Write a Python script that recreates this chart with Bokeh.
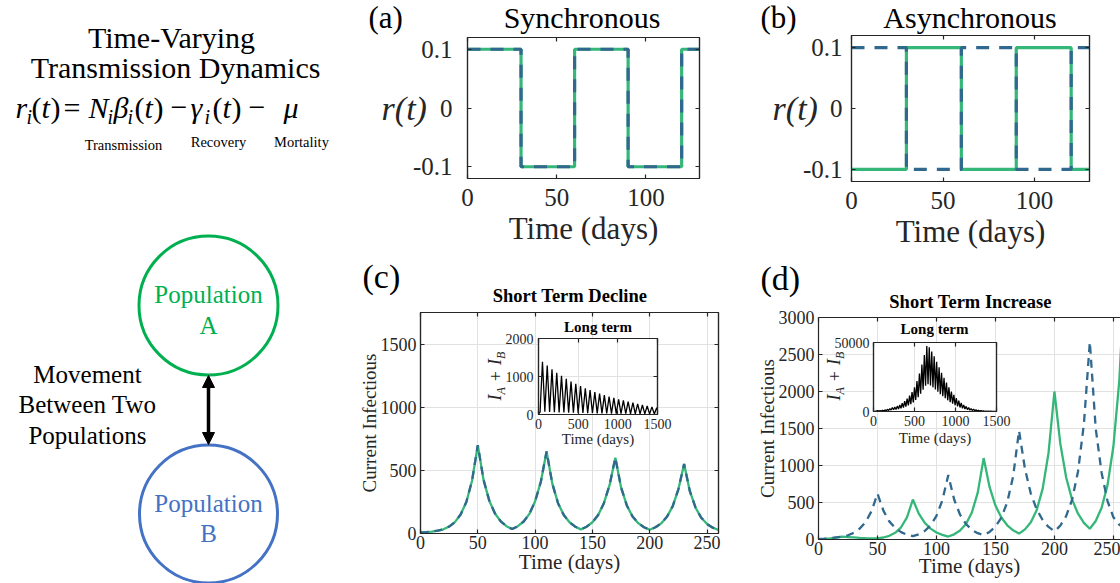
import math
from bokeh.plotting import figure
from bokeh.models import (Range1d, FixedTicker, LinearAxis, GridBox, Arrow,
                          NormalHead, CustomJSTickFormatter, ColumnDataSource)
from bokeh.embed import file_html
from bokeh.resources import INLINE
from bokeh.core.properties import value

# ---------------- data ----------------
# (a), (b): switching reproduction rate r(t)
r_days = [0, 30, 60, 90, 120, 130]
r_sync_a = [0.1, -0.1, 0.1, -0.1, 0.1, 0.1]
r_sync_b = [0.1, -0.1, 0.1, -0.1, 0.1, 0.1]
r_async_a = [-0.1, 0.1, -0.1, 0.1, -0.1, -0.1]
r_async_b = [0.1, -0.1, 0.1, -0.1, 0.1, 0.1]
r_ticks_x = [0, 50, 100]
r_ticks_y = [-0.1, 0, 0.1]

# (c), (d): short term current infectious
short_days = list(range(0, 261, 5))
decline_a = [8, 11, 15, 22, 33, 55, 90, 150, 250, 420, 700,
             425, 260, 158, 96, 58, 35,
             58, 95, 155, 255, 410, 650,
             395, 240, 146, 89, 54, 33,
             54, 89, 146, 240, 385, 600,
             365, 222, 135, 82, 50, 30,
             49, 80, 132, 215, 350, 550,
             335, 204, 124, 75, 46, 28]
decline_b = [8, 11, 15, 22, 33, 55, 90, 150, 250, 420, 700,
             425, 260, 158, 96, 58, 35,
             58, 95, 155, 255, 410, 650,
             395, 240, 146, 89, 54, 33,
             54, 89, 146, 240, 385, 600,
             365, 222, 135, 82, 50, 30,
             49, 80, 132, 215, 350, 550,
             335, 204, 124, 75, 46, 28]
increase_a = [3, 8, 15, 26, 38, 33, 28, 23, 19, 16, 15,
              27, 50, 90, 165, 300, 540,
              350, 227, 147, 95, 62, 40,
              70, 121, 210, 365, 634, 1100,
              710, 459, 297, 192, 124, 80,
              137, 234, 400, 684, 1170, 2000,
              1292, 835, 539, 348, 225, 145,
              250, 430, 735, 1260, 2150, 3680]
increase_b = [5, 10, 18, 28, 38, 57, 91, 148, 238, 385, 620,
              390, 245, 155, 100, 65, 45,
              70, 115, 190, 320, 530, 870,
              540, 335, 210, 130, 85, 60,
              102, 174, 296, 503, 855, 1470,
              955, 620, 405, 263, 170, 110,
              187, 318, 540, 920, 1565, 2670,
              1500, 900, 520, 300, 200, 150]
short_ticks_x = [0, 50, 100, 150, 200, 250]
decline_ticks_y = [0, 500, 1000, 1500]
increase_ticks_y = [0, 500, 1000, 1500, 2000, 2500, 3000]

# insets: long term I_A + I_B
long_ticks_x = [0, 500, 1000, 1500]
long_decline_days = [0, 20, 50, 80, 110, 140, 170, 200, 230, 260, 290, 320, 350, 380,
                     410, 440, 470, 500, 530, 560, 590, 620, 650, 680, 710, 740, 770,
                     800, 830, 860, 890, 920, 950, 980, 1010, 1040, 1070, 1100, 1130,
                     1160, 1190, 1220, 1250, 1280, 1310, 1340, 1370, 1400, 1430, 1460,
                     1490, 1500]
long_decline_total = [16, 66, 1390, 70, 1290, 66, 1190, 60, 1100, 56, 1020, 52, 940, 48,
                      870, 45, 810, 42, 750, 39, 690, 36, 640, 34, 590, 31, 550,
                      29, 510, 27, 470, 25, 435, 23, 400, 22, 370, 20, 340,
                      19, 310, 18, 280, 17, 250, 16, 225, 15, 200, 14,
                      180, 110]
long_decline_ticks_y = [0, 1000, 2000]

long_increase_peak_days = list(range(50, 1491, 30))
long_increase_peaks = [640, 560, 890, 1150, 1550, 2100, 2800, 3300, 3900, 4700,
                       6000, 7500, 9300, 11500, 14000, 17500, 22000, 27500, 34000, 41000,
                       47500, 46500, 43500, 40000, 36000, 32000, 28000, 24500, 21000, 17500,
                       14500, 12000, 9700, 7800, 6200, 4800, 3700, 2800, 2100, 1600,
                       1200, 900, 650, 480, 350, 250, 180, 130, 90]
long_increase_trough_days = list(range(65, 1476, 30))
long_increase_troughs = [210, 300, 430, 570, 770, 1030, 1280, 1510, 1810, 2250,
                         2840, 3530, 4370, 5360, 6620, 8300, 10400, 12900, 15800, 18600,
                         19700, 18900, 17500, 16000, 14300, 12600, 11000, 9600, 8100, 6700,
                         5600, 4600, 3700, 2900, 2300, 1800, 1400, 1000, 780, 590,
                         440, 330, 240, 170, 130, 90, 65, 46]
long_increase_start_days = [0, 20]
long_increase_start = [8, 76]
long_increase_end_day = 1500
long_increase_end = 50
long_increase_ticks_y = [0, 50000]

inc_days = list(long_increase_start_days)
inc_vals = list(long_increase_start)
for k in range(len(long_increase_peaks)):
    inc_days.append(long_increase_peak_days[k])
    inc_vals.append(long_increase_peaks[k])
    if k < len(long_increase_troughs):
        inc_days.append(long_increase_trough_days[k])
        inc_vals.append(long_increase_troughs[k])
inc_days.append(long_increase_end_day)
inc_vals.append(long_increase_end)

# ---------------- styling ----------------
W, H = 1120, 583
SERIF = "Liberation Serif"
AXC = "#262626"
GRIDC = "#E2E2E2"
GREEN = "#35B779"
BLUE = "#31688E"
POP_A = "#00B050"
POP_B = "#4472C4"
BASE_SHIFT = 0.34  # glyph text anchor sits this fraction of the size above the baseline


def base_fig(w, h, xr, yr, ml, mr, mt, mb, outline=True, transparent=False):
    p = figure(width=w, height=h, x_range=Range1d(*xr), y_range=Range1d(*yr),
               min_border_left=ml, min_border_right=mr, min_border_top=mt,
               min_border_bottom=mb, output_backend="svg", toolbar_location=None, tools="")
    p.outline_line_color = AXC if outline else None
    p.outline_line_width = 1.2
    p.background_fill_color = "white"
    p.border_fill_color = None if transparent else "white"
    return p


def style_axis(ax, ticks, size, standoff, formatter=None):
    ax.ticker = FixedTicker(ticks=ticks)
    if formatter is not None:
        ax.formatter = formatter
    ax.major_tick_in = 4
    ax.major_tick_out = 0
    ax.minor_tick_line_color = None
    ax.major_tick_line_color = AXC
    ax.major_tick_line_width = 1.2
    ax.axis_line_color = AXC
    ax.axis_line_width = 1.2
    ax.major_label_text_font = SERIF
    ax.major_label_text_font_size = f"{size}px"
    ax.major_label_text_color = AXC
    ax.major_label_standoff = standoff


def set_label(ax, text, size, standoff, style="normal", orientation=None):
    ax.axis_label = text
    ax.axis_label_text_font = SERIF
    ax.axis_label_text_font_size = f"{size}px"
    ax.axis_label_text_font_style = style
    ax.axis_label_text_color = AXC
    ax.axis_label_standoff = standoff
    if orientation is not None:
        ax.axis_label_orientation = orientation


def mirror(p, ticks, side):
    ax = LinearAxis()
    style_axis(ax, ticks, 1, 0)
    ax.major_label_text_color = None
    p.add_layout(ax, side)


def set_grid(p, xt, yt, show):
    if show:
        p.xgrid.ticker = FixedTicker(ticks=xt)
        p.ygrid.ticker = FixedTicker(ticks=yt)
        p.grid.grid_line_color = GRIDC
        p.grid.grid_line_width = 1
    else:
        p.grid.visible = False


num_fmt = CustomJSTickFormatter(code="return String(tick)")

# ---------------- (a) synchronous ----------------
fa = base_fig(357, 255, (0, 130), (-0.12, 0.12), 112, 13, 37, 77)
set_grid(fa, [], [], False)
fa.step(r_days, r_sync_a, mode="after", line_color=GREEN, line_width=3.2)
fa.step(r_days, r_sync_b, mode="after", line_color=BLUE, line_width=3.2, line_dash="13 10")
style_axis(fa.below[0], r_ticks_x, 25, 10)
set_label(fa.below[0], "Time (days)", 31, 2)
style_axis(fa.left[0], r_ticks_y, 25, 15, num_fmt)
set_label(fa.left[0], "r(t)", 34, -17, style="italic", orientation="horizontal")
mirror(fa, r_ticks_x, "above")
mirror(fa, r_ticks_y, "right")

# ---------------- (b) asynchronous ----------------
fb = base_fig(408, 255, (0, 130), (-0.12, 0.12), 139, 31, 35, 74)
set_grid(fb, [], [], False)
fb.step(r_days, r_async_a, mode="after", line_color=GREEN, line_width=3.2)
fb.step(r_days, r_async_b, mode="after", line_color=BLUE, line_width=3.2, line_dash="13 10")
style_axis(fb.below[0], r_ticks_x, 25, 10)
set_label(fb.below[0], "Time (days)", 31, 2)
style_axis(fb.left[0], r_ticks_y, 25, 9, num_fmt)
set_label(fb.left[0], "r(t)", 34, -18, style="italic", orientation="horizontal")
mirror(fb, r_ticks_x, "above")
mirror(fb, r_ticks_y, "right")

# ---------------- (c) short term decline ----------------
fc = base_fig(385, 328, (0, 260), (0, 1750), 62, 22, 57, 50)
set_grid(fc, short_ticks_x, decline_ticks_y, True)
fc.line(short_days, decline_a, line_color=GREEN, line_width=2.3)
fc.line(short_days, decline_b, line_color=BLUE, line_width=2.3, line_dash="8 6")
style_axis(fc.below[0], short_ticks_x, 18, 2)
set_label(fc.below[0], "Time (days)", 21, -2)
style_axis(fc.left[0], decline_ticks_y, 18, 4)
set_label(fc.left[0], "Current Infectious", 19, -2)
mirror(fc, short_ticks_x, "above")
mirror(fc, decline_ticks_y, "right")

fic = base_fig(186, 137, (0, 1500), (0, 2000), 52, 15, 23, 38, transparent=True)
set_grid(fic, long_ticks_x, long_decline_ticks_y, True)
fic.line(long_decline_days, long_decline_total, line_color="black", line_width=1.3)
style_axis(fic.below[0], long_ticks_x, 14, 4)
set_label(fic.below[0], "Time (days)", 15, -1)
style_axis(fic.left[0], long_decline_ticks_y, 14, 5)
mirror(fic, long_ticks_x, "above")
mirror(fic, long_decline_ticks_y, "right")

# ---------------- (d) short term increase ----------------
fd = base_fig(380, 328, (0, 256), (0, 3000), 78, 0, 62, 44, outline=False)
set_grid(fd, short_ticks_x, increase_ticks_y, True)
fd.line(short_days, increase_a, line_color=GREEN, line_width=2.3)
fd.line(short_days, increase_b, line_color=BLUE, line_width=2.3, line_dash="8 6")
style_axis(fd.below[0], short_ticks_x, 18, 2)
set_label(fd.below[0], "Time (days)", 21, -4)
style_axis(fd.left[0], increase_ticks_y, 18, 4)
set_label(fd.left[0], "Current Infectious", 19, -2)
mirror(fd, short_ticks_x, "above")

fid = base_fig(186, 134, (0, 1500), (0, 50000), 47, 16, 24, 41, transparent=True)
set_grid(fid, long_ticks_x, long_increase_ticks_y, True)
fid.line(inc_days, inc_vals, line_color="black", line_width=1.3)
style_axis(fid.below[0], long_ticks_x, 14, 4)
set_label(fid.below[0], "Time (days)", 15, 1)
style_axis(fid.left[0], long_increase_ticks_y, 14, 4)
mirror(fid, long_ticks_x, "above")
mirror(fid, long_increase_ticks_y, "right")

# ---------------- overlay: diagram, equation, titles (page pixel coords) ----------------
fo = figure(width=W, height=H, x_range=Range1d(0, W), y_range=Range1d(0, H),
            min_border=0, output_backend="svg", toolbar_location=None, tools="",
            x_axis_location=None, y_axis_location=None)
fo.outline_line_color = None
fo.grid.visible = False
fo.background_fill_color = None
fo.border_fill_color = None


def up(ys):
    return [H - v for v in ys]


def otext(xs, ys, texts, size, style="normal", align="left", color="black", angle=0.0):
    # ys are baselines in page pixels
    fo.text(x=xs, y=up([v - BASE_SHIFT * size for v in ys]), text=texts,
            text_font=value(SERIF), text_font_size=f"{size}px", text_font_style=style,
            text_align=align, text_baseline="alphabetic", text_color=color, angle=angle)


otext([171, 175], [47, 77], ["Time-Varying", "Transmission Dynamics"], 30, align="center")

eq_text = ["r", "i", "(", "t", ")", "=", "N", "i", "\u03b2", "i", "(", "t", ")", "\u2212",
           "\u03b3", "i", "(", "t", ")", "\u2212", "\u03bc"]
eq_x = [15, 26, 31, 41, 50, 63, 88, 107, 113, 127, 134, 144, 153, 170,
        190, 204, 212, 222, 231, 248, 283]
eq_sub = [False, True, False, False, False, False, False, True, False, True, False, False,
          False, False, False, True, False, False, False, False, False]
eq_style = ["italic", "italic", "normal", "italic", "normal", "normal", "italic", "italic",
            "italic", "italic", "normal", "italic", "normal", "normal", "italic", "italic",
            "normal", "italic", "normal", "normal", "italic"]
eq_sz = [20 if s else 30 for s in eq_sub]
eq_base = [123 if s else 117 for s in eq_sub]
eq = dict(text=eq_text, x=eq_x,
          y=up([b - BASE_SHIFT * z for b, z in zip(eq_base, eq_sz)]),
          size=[f"{z}px" for z in eq_sz], style=eq_style)
fo.text(x="x", y="y", text="text", text_font_size="size", text_font_style="style",
        source=ColumnDataSource(eq), text_font=value(SERIF), text_align="left",
        text_baseline="alphabetic", text_color="black")
otext([123, 218, 301], [149, 146, 146], ["Transmission", "Recovery", "Mortality"], 14.5,
      align="center")

fo.circle(x=[208], y=up([305]), radius=69.5, fill_color=None, line_color=POP_A, line_width=3)
fo.circle(x=[208], y=up([513.5]), radius=69, fill_color=None, line_color=POP_B, line_width=3)
otext([208, 208], [302.5, 333], ["Population", "A"], 25, align="center", color=POP_A)
otext([208, 208], [511.5, 541.5], ["Population", "B"], 25, align="center", color=POP_B)
otext([87, 87, 87], [382, 412.5, 443], ["Movement", "Between Two", "Populations"], 25,
      align="center")
fo.add_layout(Arrow(start=NormalHead(size=12, fill_color="black", line_color="black"),
                    end=NormalHead(size=12, fill_color="black", line_color="black"),
                    x_start=208, y_start=H - 375, x_end=208, y_end=H - 444,
                    line_color="black", line_width=3.5))

# panel letters and titles
otext([368, 760], [28, 28], ["(a)", "(b)"], 31)
otext([581.5, 969.5], [27, 27], ["Synchronous", "Asynchronous"], 30, align="center")
otext([362, 760], [288, 290], ["(c)", "(d)"], 34)
otext([569.5, 970], [302, 308], ["Short Term Decline", "Short Term Increase"], 18.5,
      style="bold", align="center")
otext([597.5, 934], [332, 334], ["Long term", "Long term"], 15, style="bold", align="center")


def ia_ib(x_base, y_start):
    # rotated "I_A + I_B" built from pieces (text, size, style, subscript, pre-gap, advance)
    pieces = [("I", 18, "italic", False, 0, 6.0), ("A", 12, "italic", True, 0, 7.3),
              ("+", 18, "normal", False, 6, 10.2), ("I", 18, "italic", False, 6, 6.0),
              ("B", 12, "italic", True, 0, 7.3)]
    pos = y_start
    for txt, size, style, sub, gap, adv in pieces:
        pos -= gap
        xb = x_base + (4 if sub else 0) - BASE_SHIFT * size
        fo.text(x=[xb], y=up([pos]), text=[txt], text_font=value(SERIF),
                text_font_size=f"{size}px", text_font_style=style, text_align="left",
                text_baseline="alphabetic", text_color=AXC, angle=math.pi / 2)
        pos -= adv


ia_ib(501, 400)
ia_ib(840, 400)

# ---------------- page layout ----------------
# zero-width tracks keep every child on its own grid lines (no shared frame alignment)
cols = ["355px", "0px", "131px", "186px", "40px", "0px", "28px", "0px",
        "86px", "186px", "108px", "0px", "0px"]
rows = ["0px", "0px", "255px", "0px", "0px", "0px", "60px", "3px",
        "134px", "0px", "131px", "0px", "0px"]
root = GridBox(children=[(fa, 1, 1, 2, 4), (fb, 2, 6, 2, 5),
                         (fc, 5, 2, 6, 5), (fd, 6, 8, 6, 4),
                         (fic, 7, 3, 3, 1), (fid, 8, 9, 1, 1),
                         (fo, 0, 0, 13, 13)],
               rows=rows, cols=cols, width=W, height=H)

open("out.html", "w").write(file_html(root, INLINE))
